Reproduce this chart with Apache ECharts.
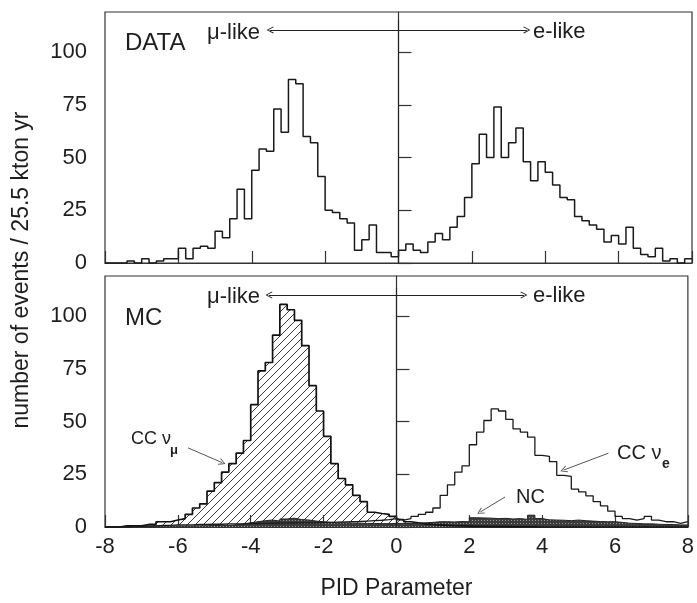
<!DOCTYPE html>
<html>
<head>
<meta charset="utf-8">
<script src="https://cdn.jsdelivr.net/npm/echarts@6/dist/echarts.min.js"></script>
<style>
html,body{margin:0;padding:0;background:#fff;}
#chart{width:697px;height:603px;}
</style>
</head>
<body>
<div id="chart"></div>
<script>
// ---- data (bins of width 0.2 from -8 to 8) ----
const binMin = -8;
const binWidth = 0.2;
const xMax = 8;
const xTickLabels = [-8, -6, -4, -2, 0, 2, 4, 6, 8];
const yTickLabels = [0, 25, 50, 75, 100];

const dataCounts = [
  0,0,0,1,0,2,0,1,2,2,
  7,2,7,8,7,15,12,21,35,21,
  44,54,53,73,62,87,85,60,57,41,
  25,24,21,19,6,11,18,5,5,3,
  6,9,6,5,10,14,11,17,22,31,
  47,61,50,74,50,57,64,48,39,48,
  43,37,31,30,22,20,18,16,10,13,
  9,17,7,4,3,7,1,2,0,2
];
const mcCCnumu = [
  0,0,0.6,0.6,0.6,1.2,1.2,2.5,2.5,3.3,
  4,6,9,11,17,21,26,30,35,41,
  58,74,78,91,105.5,103,98,86,67,55,
  43,30,23,20,15,12,7,6.4,6,5,
  3.5,2.5,2,1.5,1.2,1,0.8,0.6,0.5,0.4,
  0.3,0.3,0.2,0.2,0.2,0.1,0.1,0.1,0.1,0,
  0,0,0,0,0,0,0,0,0,0,
  0,0,0,0,0,0,0,0,0,0
];
const mcCCnue = [
  0,0,0,0.3,0.3,0.5,0.5,0.8,0.8,1,
  1,1,1.2,1.2,1.3,1.3,1.5,1.5,1.5,1.6,
  1.6,1.7,1.7,1.8,1.8,1.9,2,2,2,2.1,
  2.2,2.3,2.4,2.5,2.6,2.8,3,3.2,3.5,4,
  3.3,4,5,6,7,9,15,20,26,29,
  39,45,50.5,56,55,51,46.5,45,42.6,34,
  33.5,31,24.5,24,18,16.7,14.8,12,10,7.5,
  5,4,3.3,4,5,3.3,2.5,2.5,1.7,2.5
];
const mcNC = [
  0,0,0,0,0.3,0.3,0.5,0.5,0.5,0.5,
  0.5,0.5,0.6,0.6,0.7,0.8,0.8,1,1.5,2,
  2.5,3,3.3,2.8,3.8,4.2,3.5,3.3,2.8,2.5,
  2.2,2,2,1.8,1.8,1.7,1.7,1.6,1.6,1.7,
  1.7,1.7,1.8,2,2.2,2.5,2.5,2.4,2.6,2.5,
  4.4,4.3,4.2,4.0,4.1,3.8,4,3.6,5.6,4,
  3.4,3.3,3.2,3,3.3,3,2.8,2.6,2.5,2.5,
  2.2,1.8,1.7,1.5,1.5,1.3,1.2,1.2,1,1
];

// ---- helpers ----
const edges = dataCounts.map((_, i) => +(binMin + i * binWidth).toFixed(2));
function stepData(vals) {
  const d = vals.map((v, i) => [edges[i], v]);
  d.push([xMax, vals[vals.length - 1]]);
  return d;
}
function hatchPattern() {
  const c = document.createElement('canvas');
  c.width = 8; c.height = 8;
  const g = c.getContext('2d');
  g.strokeStyle = '#3a3a3a';
  g.lineWidth = 1;
  g.beginPath();
  g.moveTo(-2, 10); g.lineTo(10, -2);
  g.moveTo(-2, 2); g.lineTo(2, -2);
  g.moveTo(6, 10); g.lineTo(10, 6);
  g.stroke();
  return { image: c, repeat: 'repeat' };
}
function ncPattern() {
  const c = document.createElement('canvas');
  c.width = 3; c.height = 3;
  const g = c.getContext('2d');
  g.fillStyle = '#3c3c3c';
  g.fillRect(0, 0, 3, 3);
  g.fillStyle = '#9a9a9a';
  g.fillRect(1, 1, 1, 1);
  return { image: c, repeat: 'repeat' };
}

const FONT = "'Liberation Sans', Arial, sans-serif";
const TXT = '#1e1e1e';
const AX = '#333';
const chevron = 'path://M5,0 L10,9 L8.8,9.6 L5,2.4 L1.2,9.6 L0,9 Z';

function xAxisCfg(gi, showLabels) {
  return {
    type: 'value', gridIndex: gi, min: binMin, max: xMax, interval: 2,
    axisLine: { show: true, onZero: false, lineStyle: { color: AX, width: 1.2 } },
    axisTick: { show: true, inside: true, length: 12, lineStyle: { color: AX, width: 1.2 } },
    axisLabel: { show: showLabels, fontSize: 22, fontFamily: FONT, color: TXT, margin: 9 },
    splitLine: { show: false },
    name: showLabels ? 'PID Parameter' : '',
    nameLocation: 'middle', nameGap: 50,
    nameTextStyle: { fontSize: 23, fontFamily: FONT, color: TXT }
  };
}
function yAxisCfg(gi) {
  return {
    type: 'value', gridIndex: gi, min: 0, max: 119, interval: 25,
    axisLine: { show: true, lineStyle: { color: AX, width: 1.2 } },
    axisTick: { show: true, inside: true, length: 13, lineStyle: { color: AX, width: 1.2 },
                customValues: yTickLabels },
    axisLabel: { fontSize: 22, fontFamily: FONT, color: TXT, margin: 18, showMaxLabel: false,
                 formatter: v => (yTickLabels.indexOf(v) >= 0 ? String(v) : '') },
    splitLine: { show: false }
  };
}
const mlBase = { silent: true, animation: false, label: { show: false }, emphasis: { disabled: true } };

const chart = echarts.init(document.getElementById('chart'), null, { renderer: 'canvas' });
chart.setOption({
  animation: false,
  backgroundColor: '#fff',
  grid: [
    { left: 105, top: 12, width: 587, height: 251, show: true, borderColor: AX, borderWidth: 1.2, backgroundColor: 'transparent' },
    { left: 105, top: 276, width: 587, height: 251, show: true, borderColor: AX, borderWidth: 1.2, backgroundColor: 'transparent' }
  ],
  xAxis: [xAxisCfg(0, false), xAxisCfg(1, true)],
  yAxis: [yAxisCfg(0), yAxisCfg(1)],
  series: [
    {
      name: 'DATA', type: 'line', xAxisIndex: 0, yAxisIndex: 0, step: 'end',
      data: stepData(dataCounts), symbol: 'none',
      lineStyle: { color: '#1a1a1a', width: 1.5 },
      markLine: Object.assign({}, mlBase, {
        data: [
          [{ coord: [-3.5, 110.5], symbol: chevron, symbolSize: [7, 7] }, { coord: [3.5, 110.5], symbol: chevron, symbolSize: [7, 7] }],
          [{ coord: [0, 0], symbol: 'none' }, { coord: [0, 115.2], symbol: 'none' }]
        ],
        lineStyle: { color: '#222', width: 1.1, type: 'solid' }
      })
    },
    {
      name: 'CC numu', type: 'line', xAxisIndex: 1, yAxisIndex: 1, step: 'end',
      data: stepData(mcCCnumu), symbol: 'none',
      lineStyle: { color: '#111', width: 1.7 },
      areaStyle: { color: hatchPattern(), opacity: 1 }
    },
    {
      name: 'NC', type: 'line', xAxisIndex: 1, yAxisIndex: 1, step: 'end',
      data: stepData(mcNC), symbol: 'none',
      lineStyle: { color: '#222', width: 1 },
      areaStyle: { color: ncPattern(), opacity: 1 }
    },
    {
      name: 'CC nue', type: 'line', xAxisIndex: 1, yAxisIndex: 1, step: 'end',
      data: stepData(mcCCnue), symbol: 'none',
      lineStyle: { color: '#1a1a1a', width: 1.3 },
      markLine: Object.assign({}, mlBase, {
        data: [
          [{ coord: [-3.5, 110], symbol: chevron, symbolSize: [7, 7] }, { coord: [3.5, 110], symbol: chevron, symbolSize: [7, 7] }],
          [{ coord: [0, 0], symbol: 'none' }, { coord: [0, 113.3], symbol: 'none' }],
          [{ coord: [-5.72, 37.5], symbol: 'none', lineStyle: { color: '#555', width: 1 } }, { coord: [-4.78, 30.5], symbol: chevron, symbolSize: [7, 7], lineStyle: { color: '#555', width: 1 } }],
          [{ coord: [5.82, 35], symbol: 'none', lineStyle: { color: '#555', width: 1 } }, { coord: [4.59, 27], symbol: chevron, symbolSize: [7, 7], lineStyle: { color: '#555', width: 1 } }],
          [{ coord: [2.98, 14.2], symbol: 'none', lineStyle: { color: '#555', width: 1 } }, { coord: [2.30, 7.1], symbol: chevron, symbolSize: [7, 7], lineStyle: { color: '#555', width: 1 } }]
        ],
        lineStyle: { color: '#222', width: 1.1, type: 'solid' }
      })
    }
  ],
  graphic: [
    { type: 'text', x: 22, y: 270, rotation: Math.PI / 2, silent: true,
      style: { text: 'number of events / 25.5 kton yr', font: '23px ' + FONT, fill: TXT,
               align: 'center', verticalAlign: 'middle', textAlign: 'center', textVerticalAlign: 'middle' } },
    { type: 'text', x: 125, y: 43, silent: true,
      style: { text: 'DATA', font: '24px ' + FONT, fill: TXT, align: 'left', verticalAlign: 'middle', textAlign: 'left', textVerticalAlign: 'middle' } },
    { type: 'text', x: 125, y: 318, silent: true,
      style: { text: 'MC', font: '24px ' + FONT, fill: TXT, align: 'left', verticalAlign: 'middle', textAlign: 'left', textVerticalAlign: 'middle' } },
    { type: 'text', x: 207, y: 33, silent: true,
      style: { text: 'μ-like', font: '22px ' + FONT, fill: TXT, align: 'left', verticalAlign: 'middle', textAlign: 'left', textVerticalAlign: 'middle' } },
    { type: 'text', x: 533, y: 32, silent: true,
      style: { text: 'e-like', font: '22px ' + FONT, fill: TXT, align: 'left', verticalAlign: 'middle', textAlign: 'left', textVerticalAlign: 'middle' } },
    { type: 'text', x: 207, y: 297, silent: true,
      style: { text: 'μ-like', font: '22px ' + FONT, fill: TXT, align: 'left', verticalAlign: 'middle', textAlign: 'left', textVerticalAlign: 'middle' } },
    { type: 'text', x: 533, y: 296, silent: true,
      style: { text: 'e-like', font: '22px ' + FONT, fill: TXT, align: 'left', verticalAlign: 'middle', textAlign: 'left', textVerticalAlign: 'middle' } },
    { type: 'text', x: 131, y: 439, silent: true,
      style: { text: 'CC ν', font: '18px ' + FONT, fill: TXT, align: 'left', verticalAlign: 'middle', textAlign: 'left', textVerticalAlign: 'middle' } },
    { type: 'text', x: 170, y: 450, silent: true,
      style: { text: 'μ', font: 'bold 13px ' + FONT, fill: TXT, align: 'left', verticalAlign: 'middle', textAlign: 'left', textVerticalAlign: 'middle' } },
    { type: 'text', x: 617, y: 453, silent: true,
      style: { text: 'CC ν', font: '20px ' + FONT, fill: TXT, align: 'left', verticalAlign: 'middle', textAlign: 'left', textVerticalAlign: 'middle' } },
    { type: 'text', x: 662, y: 464, silent: true,
      style: { text: 'e', font: 'bold 14px ' + FONT, fill: TXT, align: 'left', verticalAlign: 'middle', textAlign: 'left', textVerticalAlign: 'middle' } },
    { type: 'text', x: 516, y: 497, silent: true,
      style: { text: 'NC', font: '20px ' + FONT, fill: TXT, align: 'left', verticalAlign: 'middle', textAlign: 'left', textVerticalAlign: 'middle' } }
  ]
});
</script>
</body>
</html>
